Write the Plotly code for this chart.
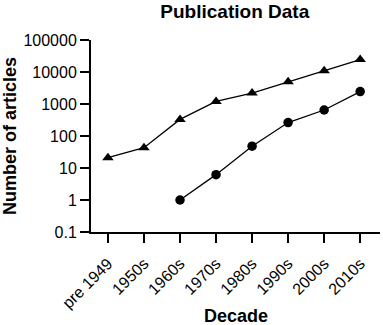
import plotly.graph_objects as go

decades = ["pre 1949", "1950s", "1960s", "1970s", "1980s", "1990s", "2000s", "2010s"]
total_articles = [21, 43, 330, 1200, 2200, 5000, 11000, 24500]
circle_decades = ["1960s", "1970s", "1980s", "1990s", "2000s", "2010s"]
circle_articles = [1, 6.2, 48, 263, 650, 2450]
y_tick_vals = [0.1, 1, 10, 100, 1000, 10000, 100000]
y_tick_text = ["0.1", "1", "10", "100", "1000", "10000", "100000"]

fig = go.Figure()
fig.add_trace(go.Scatter(
    x=decades, y=total_articles, mode="lines+markers",
    line=dict(color="black", width=1.3),
    marker=dict(symbol="triangle-up", size=10, color="black"),
    showlegend=False))
fig.add_trace(go.Scatter(
    x=circle_decades, y=circle_articles, mode="lines+markers",
    line=dict(color="black", width=1.3),
    marker=dict(symbol="circle", size=9.5, color="black"),
    showlegend=False))

fam = "Liberation Sans, Arial, sans-serif"
axis_font = dict(family=fam, size=16, color="black")
title_font = dict(family=fam, size=18, color="black")
main_title_font = dict(family=fam, size=19, color="black")

fig.update_layout(
    width=383, height=325,
    margin=dict(l=91, r=3, t=40, b=93),
    paper_bgcolor="white", plot_bgcolor="white",
    title=dict(text="<b>Publication Data</b>", x=0.613, xanchor="center",
               y=0.985, yanchor="top", font=main_title_font),
    xaxis=dict(
        type="category", categoryorder="array", categoryarray=decades,
        range=[-0.47, 7.55], automargin=False,
        showline=True, linecolor="black", linewidth=2,
        ticks="outside", ticklen=9, tickwidth=2, tickcolor="black",
        tickangle=-45, tickfont=axis_font, ticklabelstandoff=5,
        showgrid=False, zeroline=False),
    yaxis=dict(
        type="log", range=[-1, 5], automargin=False,
        tickvals=y_tick_vals, ticktext=y_tick_text,
        showline=True, linecolor="black", linewidth=2,
        ticks="outside", ticklen=9, tickwidth=2, tickcolor="black",
        tickfont=axis_font, showgrid=False, zeroline=False),
    annotations=[
        dict(text="<b>Decade</b>", font=title_font, showarrow=False,
             xref="paper", yref="paper", x=0.5, y=0, yshift=-84,
             xanchor="center", yanchor="middle"),
        dict(text="<b>Number of articles</b>", font=title_font, showarrow=False,
             textangle=-90, xref="paper", yref="paper", x=0, xshift=-81, y=0.5,
             xanchor="center", yanchor="middle"),
    ],
)

fig.write_html("out.html", config={"displayModeBar": False},
               post_script="document.body.style.margin='0';document.body.style.overflow='hidden';")
